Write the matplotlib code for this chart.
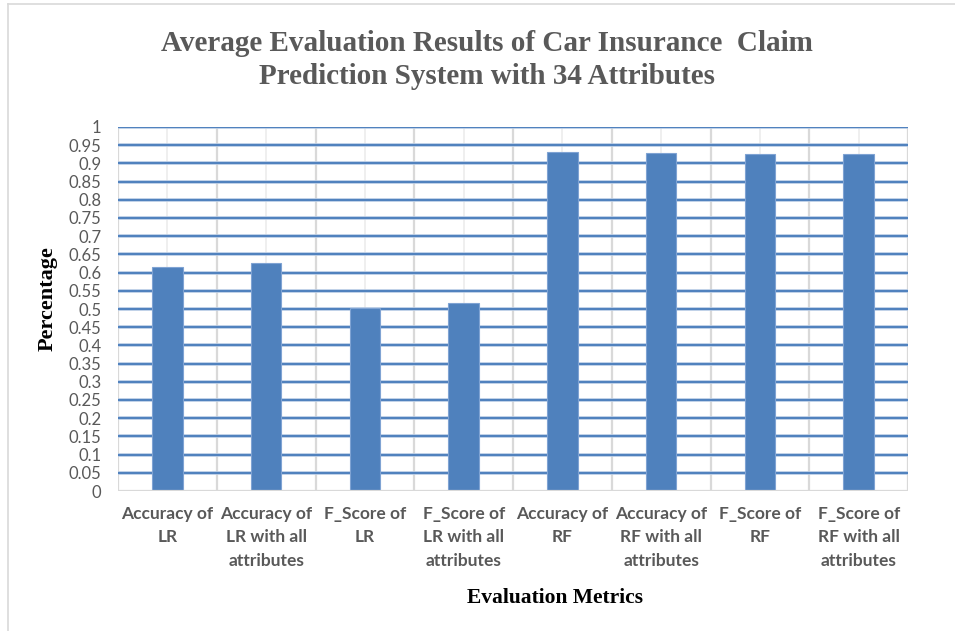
import numpy as np
import matplotlib.pyplot as plt
from matplotlib.lines import Line2D

categories = [
    "Accuracy of\nLR",
    "Accuracy of\nLR with all\nattributes",
    "F_Score of\nLR",
    "F_Score of\nLR with all\nattributes",
    "Accuracy of\nRF",
    "Accuracy of\nRF with all\nattributes",
    "F_Score of\nRF",
    "F_Score of\nRF with all\nattributes",
]
scores = [0.615, 0.627, 0.503, 0.516, 0.930, 0.929, 0.927, 0.925]
y_ticks = [round(0.05 * i, 2) for i in range(21)]
y_tick_labels = ["%g" % t for t in y_ticks]

BAR = "#4f81bd"
GREY_TXT = "#595959"

fig = plt.figure(figsize=(9.55, 6.31), dpi=100)
ax = fig.add_axes([118 / 955, 140 / 631, 790 / 955, 364 / 631])

x = np.arange(len(categories))
ax.bar(x, scores, width=0.31, color=BAR, edgecolor="#7fa3d3", linewidth=0.8, zorder=3)

ax.set_xlim(-0.5, len(categories) - 0.5)
ax.set_ylim(0, 1)

# vertical guides: category borders and faint centre lines
for b in np.arange(-0.5, len(categories), 1.0):
    ax.axvline(b, color="#d9d9d9", lw=1.6, zorder=1)
for c in x:
    ax.axvline(c, color="#efefef", lw=1.4, zorder=1)
# blue horizontal grid
for t in y_ticks[1:]:
    ax.axhline(t, color="#b3c8e3", lw=2.6, zorder=2)
    ax.axhline(t, color=BAR, lw=1.4, zorder=2)

for s in ax.spines.values():
    s.set_visible(False)
ax.axhline(0, color="#d9d9d9", lw=1.6, zorder=4)

ax.set_yticks(y_ticks)
ax.set_yticklabels(y_tick_labels, fontfamily="Lato", fontsize=12, color=GREY_TXT)
ax.set_xticks(x)
ax.set_xticklabels(categories, fontfamily="Lato", fontweight="bold", fontsize=12.5,
                   color=GREY_TXT, linespacing=1.55)
ax.tick_params(axis="both", length=0)
ax.tick_params(axis="y", pad=12)
ax.tick_params(axis="x", pad=11)

fig.text(487 / 955, 1 - 60 / 631,
         "Average Evaluation Results of Car Insurance  Claim\nPrediction System with 34 Attributes",
         ha="center", va="center", fontfamily="Liberation Serif", fontweight="bold",
         fontsize=21, color=GREY_TXT, linespacing=1.3)
fig.text(48 / 955, 1 - 299 / 631, "Percentage", rotation=90, ha="center", va="center",
         fontfamily="Liberation Serif", fontweight="bold", fontsize=16, color="black")
fig.text(555 / 955, 1 - 598 / 631, "Evaluation Metrics", ha="center", va="center",
         fontfamily="Liberation Serif", fontweight="bold", fontsize=15.5, color="black")

# light frame along the left and top edges
fig.add_artist(Line2D([8 / 955, 8 / 955], [0, 1 - 4 / 631], transform=fig.transFigure,
                      color="#d9d9d9", lw=1.2))
fig.add_artist(Line2D([8 / 955, 1], [1 - 4 / 631, 1 - 4 / 631], transform=fig.transFigure,
                      color="#d9d9d9", lw=1.2))

fig.savefig("out.png", dpi=100, facecolor="white")
